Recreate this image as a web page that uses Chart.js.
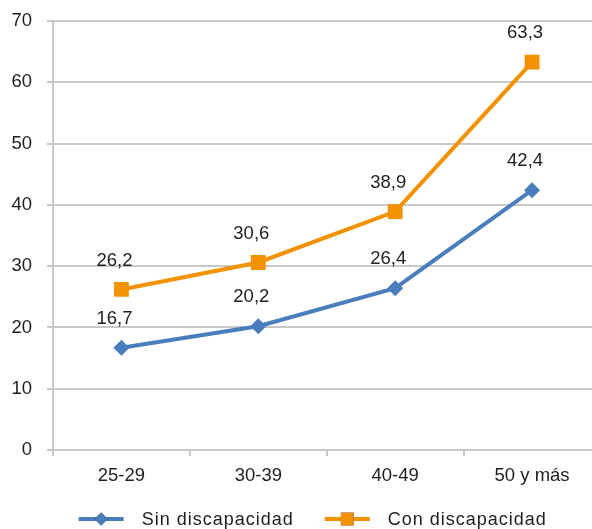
<!DOCTYPE html>
<html lang="es">
<head>
<meta charset="utf-8">
<title>Tasa por grupo de edad</title>
<script src="https://cdn.jsdelivr.net/npm/chart.js@4.4.1/dist/chart.umd.min.js"></script>
<style>
  html, body { margin: 0; padding: 0; background: #ffffff; overflow: hidden; }
  canvas { display: block; }
</style>
</head>
<body>
<canvas id="chart" width="611" height="529"></canvas>
<script>
// Age groups and values per series
const categories = ['25-29', '30-39', '40-49', '50 y más'];
const sinDiscapacidad = [16.7, 20.2, 26.4, 42.4];
const conDiscapacidad = [26.2, 30.6, 38.9, 63.3];
const seriesNames = ['Sin discapacidad', 'Con discapacidad'];
const yTicks = [0, 10, 20, 30, 40, 50, 60, 70];

const BLUE = '#4a7dbb';
const ORANGE = '#f39200';
const GRID = '#c8c8c8';
const TEXT = '#1e1e1e';
const FONT_FAMILY = '"Liberation Sans", Arial, Helvetica, sans-serif';
const FONT_SIZE = 18.5;

const fmt = v => v.toFixed(1).replace('.', ',');

// Value labels above each point
const valueLabels = {
  id: 'valueLabels',
  afterDatasetsDraw(chart) {
    const ctx = chart.ctx;
    ctx.save();
    ctx.font = FONT_SIZE + 'px ' + FONT_FAMILY;
    ctx.fillStyle = TEXT;
    ctx.textAlign = 'center';
    ctx.textBaseline = 'middle';
    chart.data.datasets.forEach((ds, i) => {
      const meta = chart.getDatasetMeta(i);
      meta.data.forEach((pt, j) => {
        ctx.fillText(fmt(ds.data[j]), pt.x - 7, pt.y - 29);
      });
    });
    ctx.restore();
  }
};

// Legend: a short line with the marker in its middle, followed by the name
const lineLegend = {
  id: 'lineLegend',
  afterDraw(chart) {
    const ctx = chart.ctx;
    ctx.save();
    ctx.letterSpacing = '1px';
    ctx.font = '18px ' + FONT_FAMILY;
    ctx.textBaseline = 'middle';
    ctx.textAlign = 'left';
    const lineLen = 45, gap = 18, itemGap = 31;
    const items = chart.data.datasets.map(ds => ({ ds, w: ctx.measureText(ds.label).width }));
    const total = items.reduce((s, it) => s + lineLen + gap + it.w, 0) + itemGap * (items.length - 1);
    let x = (chart.chartArea.left + chart.chartArea.right) / 2 - total / 2 - 14;
    const y = 519;
    items.forEach(it => {
      const ds = it.ds;
      ctx.strokeStyle = ds.borderColor;
      ctx.lineWidth = 4;
      ctx.beginPath();
      ctx.moveTo(x, y);
      ctx.lineTo(x + lineLen, y);
      ctx.stroke();
      Chart.helpers.drawPoint(ctx, {
        pointStyle: ds.pointStyle,
        radius: ds.pointStyle === 'rect' ? 9 : 6.5,
        borderWidth: 0,
        rotation: 0
      }, x + lineLen / 2, y);
      ctx.fillStyle = ds.borderColor;
      ctx.fill();
      ctx.fillStyle = TEXT;
      ctx.fillText(ds.label, x + lineLen + gap, y + 1);
      x += lineLen + gap + it.w + itemGap;
    });
    ctx.restore();
  }
};

new Chart(document.getElementById('chart'), {
  type: 'line',
  data: {
    labels: categories,
    datasets: [
      {
        label: seriesNames[0],
        data: sinDiscapacidad,
        borderColor: BLUE,
        backgroundColor: BLUE,
        borderWidth: 4,
        pointStyle: 'rectRot',
        pointRadius: 8,
        pointHoverRadius: 8,
        pointBorderWidth: 0,
        tension: 0
      },
      {
        label: seriesNames[1],
        data: conDiscapacidad,
        borderColor: ORANGE,
        backgroundColor: ORANGE,
        borderWidth: 4,
        pointStyle: 'rect',
        pointRadius: 10.5,
        pointHoverRadius: 10.5,
        pointBorderWidth: 0,
        tension: 0
      }
    ]
  },
  options: {
    responsive: false,
    animation: false,
    layout: { padding: { top: 21, left: 0, right: 0, bottom: 0 } },
    plugins: {
      legend: { display: false },
      tooltip: { enabled: false }
    },
    scales: {
      x: {
        offset: true,
        grid: {
          offset: true,
          drawOnChartArea: false,
          drawTicks: true,
          tickLength: 6,
          color: GRID,
          lineWidth: 2
        },
        border: { display: true, color: GRID, width: 2 },
        ticks: {
          color: TEXT,
          font: { family: FONT_FAMILY, size: FONT_SIZE },
          padding: 9,
          maxRotation: 0
        },
        afterFit(scale) { scale.height = 79; }
      },
      y: {
        min: 0,
        max: 70,
        afterBuildTicks(scale) { scale.ticks = yTicks.map(v => ({ value: v })); },
        grid: {
          color: GRID,
          lineWidth: 2,
          tickLength: 6
        },
        border: { display: true, color: GRID, width: 2 },
        ticks: {
          color: TEXT,
          font: { family: FONT_FAMILY, size: FONT_SIZE },
          padding: 15
        },
        afterFit(scale) {
          scale.width = 53;
          scale.paddingTop = 0;
          scale.paddingBottom = 0;
        }
      }
    }
  },
  plugins: [valueLabels, lineLegend]
});
</script>
</body>
</html>
